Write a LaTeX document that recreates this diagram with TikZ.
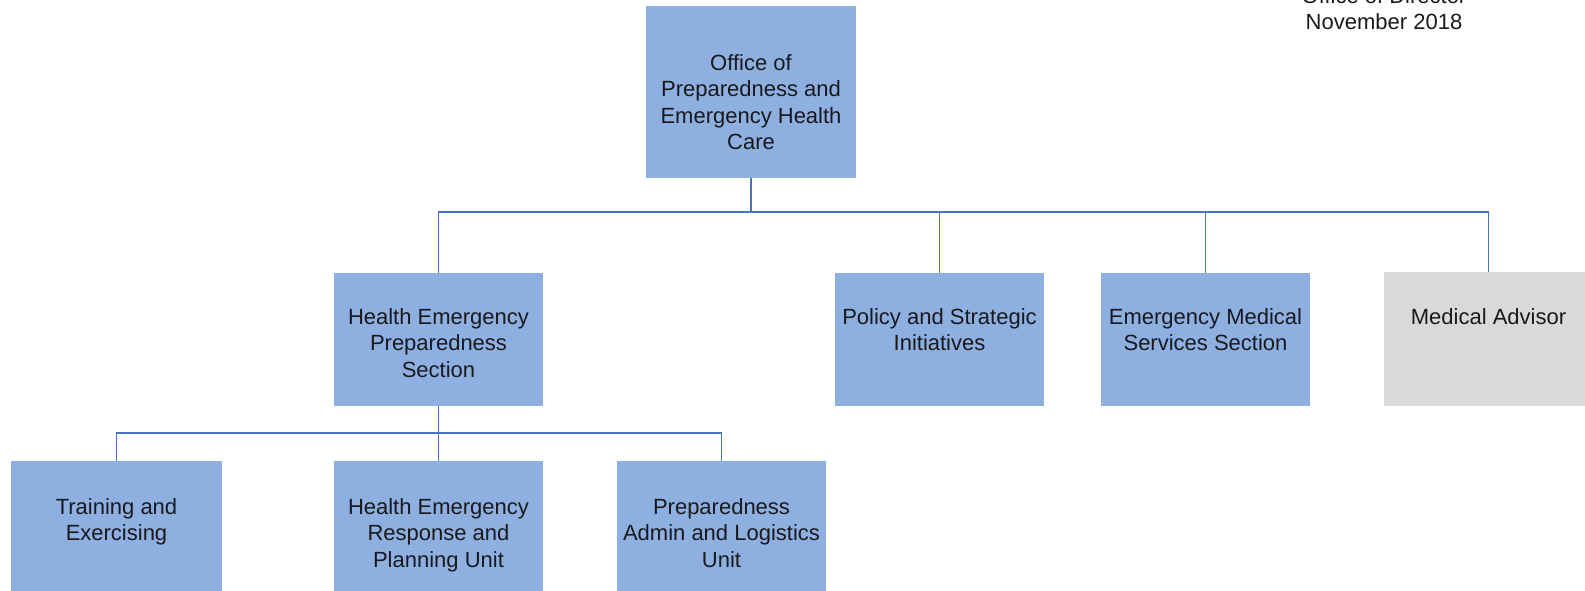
\documentclass[tikz,border=0pt]{standalone}
\usepackage{fontspec}
\setmainfont{Liberation Sans}
\definecolor{boxblue}{RGB}{142,176,224}
\definecolor{boxgray}{RGB}{217,217,217}
\definecolor{linkblue}{RGB}{72,116,196}
\definecolor{txt}{RGB}{25,25,30}
\begin{document}
\begin{tikzpicture}[x=1pt,y=-1pt,
  box/.style={rectangle, fill=boxblue, draw=none, minimum width=209pt, inner sep=0pt},
  graybox/.style={box, fill=boxgray},
  btext/.style={anchor=north, align=center, inner sep=0pt, text=txt,
    font=\fontsize{22pt}{26.5pt}\selectfont},
  conn/.style={draw=linkblue, line width=1.5pt}]
\useasboundingbox (0,0) rectangle (1585,591);
% boxes
\node[box, minimum width=210pt, minimum height=172pt] (top) at (751,92) {};
\node[box, minimum height=133pt] (heps) at (438.5,339.5) {};
\node[box, minimum height=133pt] (psi) at (939.5,339.5) {};
\node[box, minimum height=133pt] (ems) at (1205.5,339.5) {};
\node[graybox, minimum height=134pt] (med) at (1488.5,339) {};
\node[box, minimum width=211pt, minimum height=160pt] (tre) at (116.5,541) {};
\node[box, minimum height=160pt] (herp) at (438.5,541) {};
\node[box, minimum height=160pt] (palu) at (721.5,541) {};
% texts
\node[btext] (ttop) at (751,54) {Office of\\Preparedness and\\Emergency Health\\Care};
\node[btext] (theps) at (438.5,308) {Health Emergency\\Preparedness\\Section};
\node[btext] (tpsi) at (939.5,308) {Policy and Strategic\\Initiatives};
\node[btext] (tems) at (1205.5,308) {Emergency Medical\\Services Section};
\node[btext] (tmed) at (1488.5,308) {Medical Advisor};
\node[btext] (ttre) at (116.5,498) {Training and\\Exercising};
\node[btext] (therp) at (438.5,498) {Health Emergency\\Response and\\Planning Unit};
\node[btext] (tpalu) at (721.5,498) {Preparedness\\Admin and Logistics\\Unit};
\node[btext, anchor=south] (hdr) at (1384,30) {Office of Director\\November 2018};
% connectors
\coordinate (bus1) at (0,212);
\coordinate (bus2) at (0,433);
\draw[conn] (top.south) -- (top.south |- bus1);
\draw[conn] (top.south |- bus1) -| (heps.north);
\draw[conn] (top.south |- bus1) -| (psi.north);
\draw[conn] (top.south |- bus1) -| (ems.north);
\draw[conn] (top.south |- bus1) -| (med.north);
\draw[conn] (heps.south) -- (heps.south |- bus2);
\draw[conn] (heps.south |- bus2) -| (tre.north);
\draw[conn] (heps.south |- bus2) -| (herp.north);
\draw[conn] (heps.south |- bus2) -| (palu.north);
\end{tikzpicture}
\end{document}
